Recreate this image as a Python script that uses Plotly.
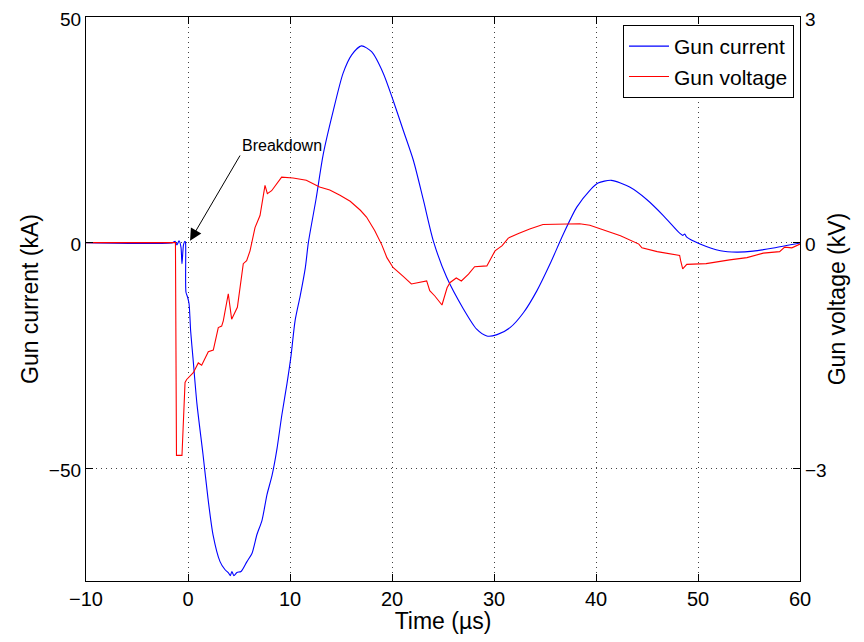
import plotly.graph_objects as go

# Gun current (kA) vs time (us)
t_current = [-10, -1.5, -1.27, -1.08, -0.88, -0.69, -0.59, -0.44, -0.29, -0.24, -0.2, -0.05, 0.1, 0.2, 0.26,
             0.49, 0.88, 1.47, 1.96, 2.45, 3.14, 3.6, 4.0, 4.15, 4.3, 4.5, 4.8, 5.2, 5.78, 6.27, 6.76, 7.25,
             7.75, 8.24, 8.73, 9.2, 9.7, 10.1, 10.5, 11.0, 11.5, 11.8, 12.55, 13.27, 14.25, 15.2, 16.05, 17.0,
             18.0, 19.15, 20.1, 21.1, 22.1, 23.07, 24.05, 25.36, 27.0, 28.3, 29.3, 30.3, 31.6, 32.9, 34.2,
             35.5, 36.8, 38.1, 39.4, 40.2, 41.5, 43.3, 45.0, 46.6, 48.2, 48.5, 48.7, 48.9, 50.2, 52.2, 53.8,
             55.4, 57.4, 60]
i_current = [0, 0, 0.3, -0.5, 0.4, -1.0, -4.7, -0.5, 0.3, 0, -11, -12, -13.5, -17, -19.6,
             -25.6, -35.8, -46.9, -56.7, -64.7, -70.7, -72.4, -73.3, -73.8, -72.9, -73.8, -73.1, -72.9, -70.7,
             -68.9, -64.7, -61.6, -55.8, -51.6, -45.6, -38.2, -31.3, -25.1, -17.3, -11.8, -5.6, 0, 9.6, 19.7,
             29.3, 37.5, 41.6, 43.6, 42.3, 37.5, 31.6, 24.9, 18.2, 9.5, 0.4, -7.7, -14.7, -19.2, -20.7, -20.4,
             -18.8, -15.5, -10.7, -4.7, 1.9, 7.8, 11.6, 13.2, 13.8, 12.3, 9.5, 6.0, 2.1, 1.6, 1.9, 1.2, -0.3,
             -1.8, -2.1, -1.9, -1.2, -0.1]

# Gun voltage (kV) vs time (us)
t_voltage = [-10, -1.23, -1.13, -0.59, -0.29, -0.13, 0.52, 1.01, 1.34, 1.99, 2.48, 2.97, 3.3, 3.46, 3.95,
             4.28, 4.84, 5.42, 5.75, 6.08, 6.57, 7.06, 7.55, 7.78, 8.2, 9.18, 10.3, 11.6, 12.9, 13.9, 14.9,
             15.9, 16.9, 17.5, 18.3, 19.0, 19.5, 20.1, 21.1, 21.9, 23.4, 23.7, 24.2, 24.9, 25.4, 25.7, 26.3,
             26.8, 27.5, 28.1, 29.3, 30.1, 30.8, 31.4, 32.4, 33.5, 34.8, 36.5, 38.4, 39.4, 40.4, 42.4, 44.2,
             44.5, 46.0, 48.2, 48.3, 48.5, 48.9, 50.8, 53.1, 54.8, 56.4, 58.0, 58.5, 59.2, 60]
v_voltage = [0, 0, -2.83, -2.83, -1.86, -1.82, -1.73, -1.6, -1.63, -1.45, -1.43, -1.13, -1.11, -1.04, -0.68,
             -1.02, -0.86, -0.28, -0.24, -0.11, 0.2, 0.36, 0.76, 0.65, 0.69, 0.87, 0.86, 0.83, 0.74, 0.7, 0.63,
             0.55, 0.43, 0.34, 0.16, -0.03, -0.2, -0.33, -0.45, -0.55, -0.51, -0.64, -0.71, -0.83, -0.6, -0.53,
             -0.47, -0.51, -0.42, -0.32, -0.31, -0.11, -0.04, 0.06, 0.12, 0.18, 0.24, 0.24, 0.25, 0.23, 0.18,
             0.09, -0.02, -0.07, -0.12, -0.17, -0.24, -0.35, -0.29, -0.28, -0.23, -0.2, -0.14, -0.12, -0.06,
             -0.07, -0.02]

x_ticks = [-10, 0, 10, 20, 30, 40, 50, 60]
y1_ticks = [-50, 0, 50]
y2_ticks = [-3, 0, 3]

FONT = "Liberation Sans"
GRID_DASH = "1px,4px"
GRID_COLOR = "rgba(0,0,0,0.75)"

fig = go.Figure()
fig.add_trace(go.Scatter(x=t_current, y=i_current, mode="lines", name="Gun current",
                         line=dict(color="#0000ff", width=1.1, shape="spline", smoothing=0.7), yaxis="y"))
fig.add_trace(go.Scatter(x=t_voltage, y=v_voltage, mode="lines", name="Gun voltage",
                         line=dict(color="#ff0000", width=1.1), yaxis="y2"))

# The page body has an 8px default margin, so the figure is sized to fit inside it.
fig.update_layout(
    width=848, height=626,
    margin=dict(l=78, r=56, t=9, b=53, autoexpand=False),
    paper_bgcolor="white", plot_bgcolor="white",
    font=dict(family=FONT, size=19, color="black"),
    showlegend=True,
    legend=dict(x=0.9916, y=0.9858, xanchor="right", yanchor="top",
                bordercolor="black", borderwidth=1, bgcolor="white",
                font=dict(size=21), tracegroupgap=0, itemwidth=40),
    xaxis=dict(range=[-10, 60], tickvals=x_ticks, ticks="inside", ticklen=7, tickcolor="black",
               showline=True, linecolor="black", linewidth=1.3, mirror="ticks", automargin=False,
               tickfont=dict(size=20), ticklabeloverflow="allow",
               showgrid=True, gridcolor=GRID_COLOR, griddash=GRID_DASH, gridwidth=1,
               zeroline=False, title=dict(text="Time (µs)", standoff=2)),
    yaxis=dict(range=[-75, 50], tickvals=y1_ticks, ticks="inside", ticklen=7, tickcolor="black",
               showline=True, linecolor="black", linewidth=1.3, automargin=False,
               tickfont=dict(size=19), ticklabeloverflow="allow", ticklabelshift=2,
               showgrid=True, gridcolor=GRID_COLOR, griddash=GRID_DASH, gridwidth=1,
               zeroline=False, title=dict(text="Gun current (kA)", standoff=3)),
    yaxis2=dict(range=[-4.5, 3], tickvals=y2_ticks, ticks="inside", ticklen=7, tickcolor="black",
                overlaying="y", side="right", automargin=False,
                tickfont=dict(size=19), ticklabeloverflow="allow", ticklabelshift=2,
                showline=True, linecolor="black", linewidth=1.3,
                showgrid=False, zeroline=False, title=dict(text="Gun voltage (kV)", standoff=3)),
    annotations=[dict(x=0.2, y=0.4, xref="x", yref="y", text="Breakdown",
                      ax=5.1, ay=19.3, axref="x", ayref="y", xanchor="left", yanchor="bottom",
                      showarrow=True, arrowhead=2, arrowsize=2.4, arrowwidth=1, arrowcolor="black",
                      font=dict(size=16, family=FONT))],
)

fig.write_html("out.html")
